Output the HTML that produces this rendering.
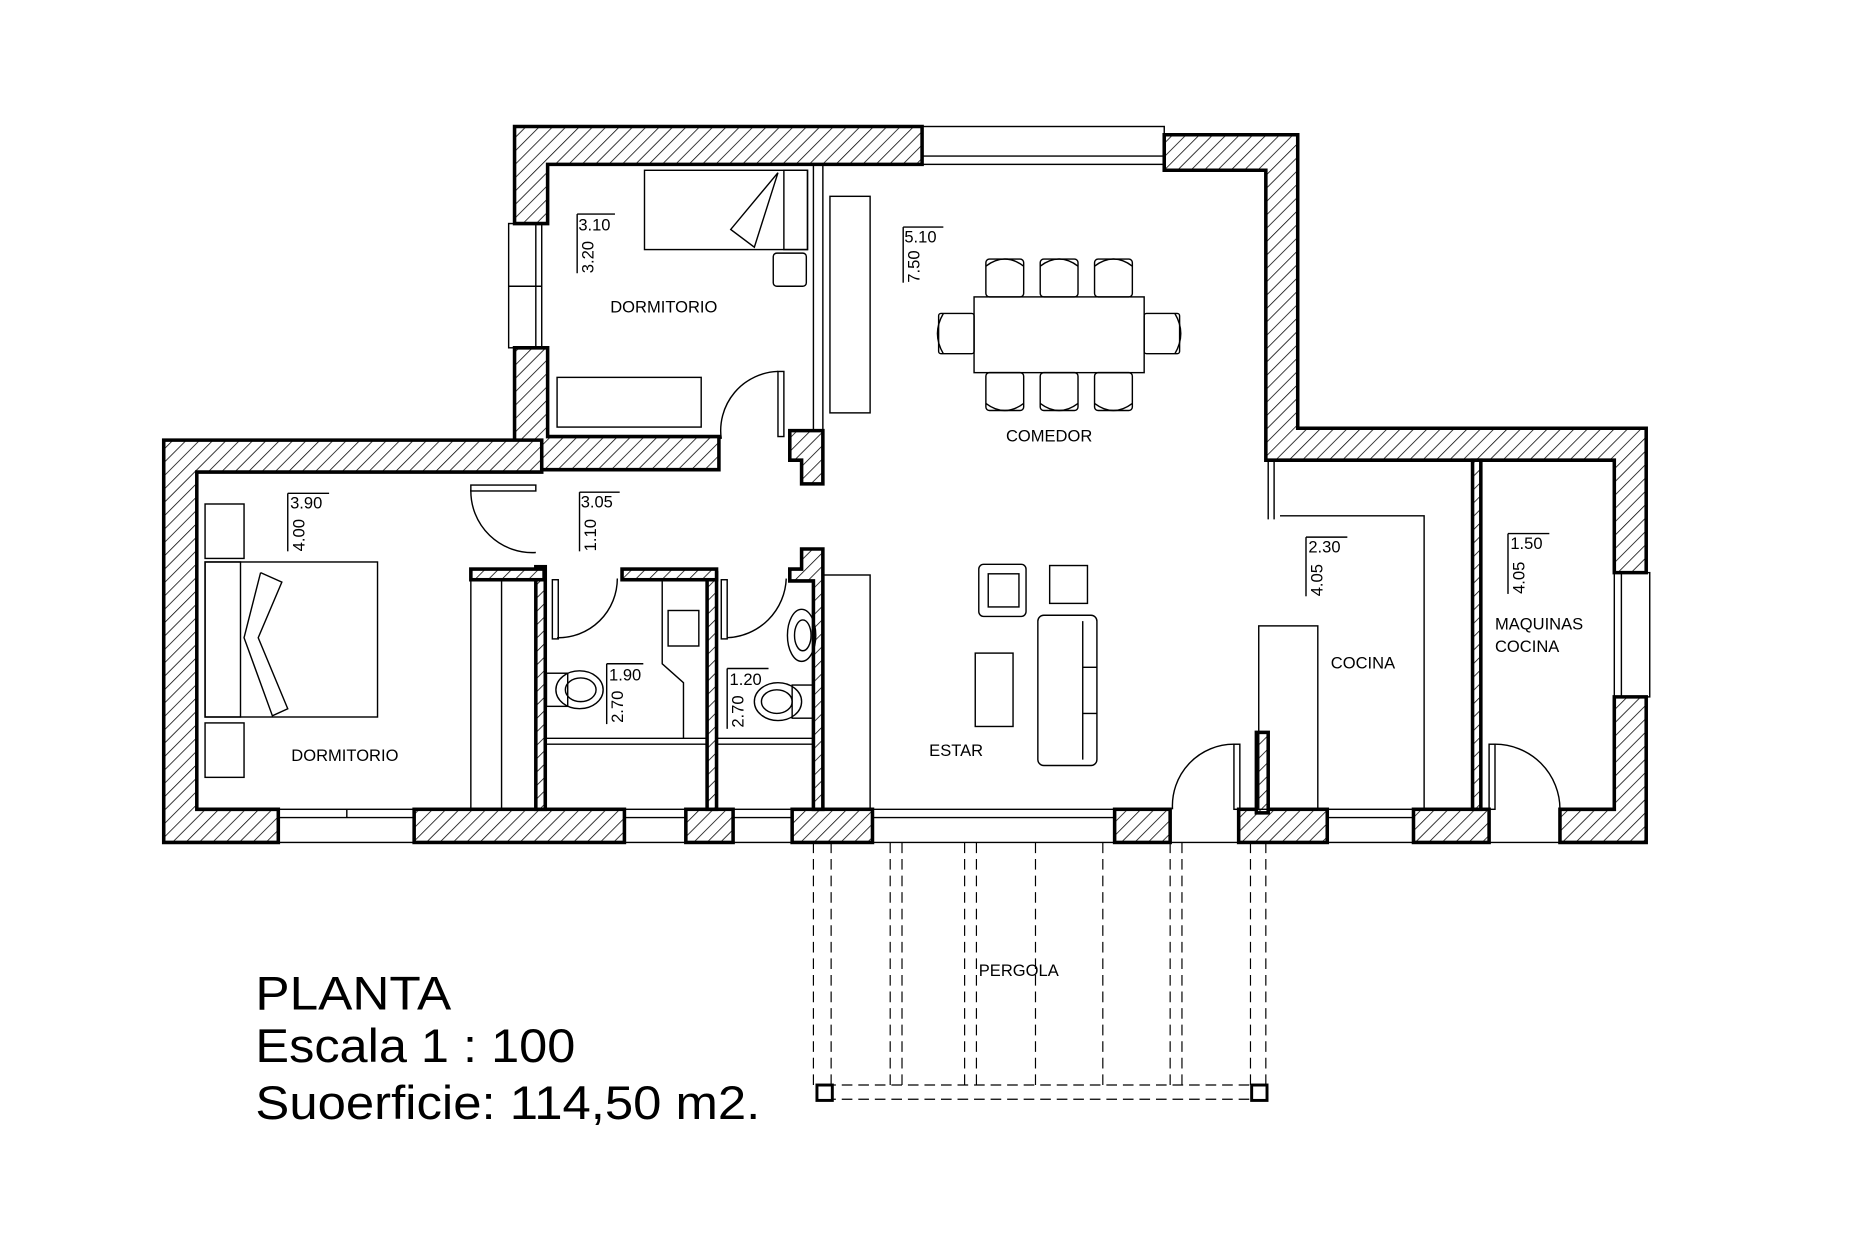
<!DOCTYPE html>
<html><head><meta charset="utf-8"><style>
html,body{margin:0;padding:0;background:#fff;}
svg{display:block;}
text{font-family:"Liberation Sans",sans-serif;fill:#000;}
</style></head><body>
<svg width="1850" height="1254" viewBox="0 0 1550 1051" preserveAspectRatio="none" xmlns="http://www.w3.org/2000/svg">
<defs>
<pattern id="h" patternUnits="userSpaceOnUse" width="8" height="8" patternTransform="rotate(45)">
<rect width="8" height="8" fill="#fff"/><line x1="0" y1="0" x2="0" y2="8" stroke="#000" stroke-width="1.3"/>
</pattern>
</defs>
<g transform="scale(0.9897,0.9918) translate(-1.4,-1.1)">
<g fill="url(#h)" stroke="#000" stroke-width="3">
<polygon points="437,108 782,108 782,140 465,140 465,190 437,190"/>
<polygon points="437,295 465,295 465,370 610,370 610,398 437,398"/>
<polygon points="987,115 1100,115 1100,363 1395,363 1395,485 1368,485 1368,390 1073,390 1073,145 987,145"/>
<polygon points="1368,590 1395,590 1395,713 1322,713 1322,685 1368,685"/>
<polygon points="140,373 460,373 460,400 168,400 168,685 237,685 237,713 140,713"/>
<rect x="352" y="685" width="178" height="28"/>
<rect x="582" y="685" width="40" height="28"/>
<rect x="672" y="685" width="68" height="28"/>
<rect x="945" y="685" width="47" height="28"/>
<rect x="1050" y="685" width="75" height="28"/>
<rect x="1198" y="685" width="64" height="28"/>
<polygon points="670,365 698,365 698,410 680,410 680,390 670,390"/>
<polygon points="680,465 698,465 698,685 690,685 690,492 670,492 670,482 680,482"/>
<rect x="455" y="480" width="8" height="205"/>
<rect x="600" y="485" width="8" height="200"/>
<rect x="400" y="482" width="62" height="9"/>
<rect x="528" y="482" width="80" height="9"/>
<rect x="1248" y="390" width="7" height="295"/>
<rect x="1065" y="620" width="10" height="68"/>
</g>
<g fill="none" stroke="#000" stroke-width="1.2">
<rect x="782" y="108" width="205" height="32"/><line x1="782" y1="133" x2="987" y2="133"/>
<rect x="432" y="190" width="28" height="105"/><line x1="455" y1="190" x2="455" y2="295"/><line x1="432" y1="243" x2="460" y2="243"/>
<rect x="1368" y="485" width="30" height="105"/><line x1="1374" y1="485" x2="1374" y2="590"/>
<rect x="237" y="685" width="115" height="28"/><line x1="237" y1="692" x2="352" y2="692"/><line x1="295" y1="685" x2="295" y2="692"/>
<rect x="530" y="685" width="52" height="28"/><line x1="530" y1="692" x2="582" y2="692"/>
<rect x="622" y="685" width="50" height="28"/><line x1="622" y1="692" x2="672" y2="692"/>
<rect x="1125" y="685" width="73" height="28"/><line x1="1125" y1="692" x2="1198" y2="692"/>
<line x1="740" y1="685" x2="945" y2="685"/><line x1="740" y1="692" x2="945" y2="692"/><line x1="740" y1="713" x2="945" y2="713"/>
<line x1="992" y1="713" x2="1050" y2="713"/><line x1="1262" y1="713" x2="1322" y2="713"/>
<line x1="698" y1="140" x2="698" y2="365"/><line x1="690" y1="140" x2="690" y2="365"/>
<line x1="1080" y1="390" x2="1080" y2="440"/><line x1="1075" y1="390" x2="1075" y2="440"/>
<polyline points="1085,437 1207,437 1207,685"/>
<rect x="1067" y="530" width="50" height="155"/>
<line x1="463" y1="625" x2="600" y2="625"/><line x1="463" y1="630" x2="600" y2="630"/>
<line x1="608" y1="625" x2="690" y2="625"/><line x1="608" y1="630" x2="690" y2="630"/>
<rect x="400" y="491" width="26" height="194"/>
<rect x="698" y="487" width="40" height="198"/>
<polyline points="562,491 562,562 580,578 580,625"/>
<rect x="567" y="517" width="26" height="30"/>
<path d="M612,372 A50,50 0 0 1 660,315"/><rect x="660" y="315" width="5" height="55"/>
<path d="M400,415 A52,52 0 0 0 455,468"/><rect x="400" y="411" width="55" height="5"/>
<path d="M473,540 A50,50 0 0 0 524,490"/><rect x="469" y="491" width="5" height="50"/>
<path d="M617,540 A52,52 0 0 0 667,490"/><rect x="612" y="491" width="5" height="50"/>
<path d="M994,685 A52,52 0 0 1 1046,630"/><rect x="1046" y="630" width="5" height="55"/>
<path d="M1322,685 A55,55 0 0 0 1267,630"/><rect x="1262" y="630" width="5" height="55"/>
<rect x="547" y="145" width="138" height="67"/><rect x="665" y="145" width="20" height="67"/>
<polyline points="660,147 620,195 640,210 660,147"/>
<rect x="656" y="215" width="28" height="28" rx="3"/>
<rect x="473" y="320" width="122" height="42"/>
<rect x="704" y="167" width="34" height="183"/>
<rect x="826" y="252" width="144" height="64"/>
<g id="ch"><rect x="836" y="220" width="32" height="32" rx="3"/><path d="M836,226 Q852,214 868,226"/></g>
<use href="#ch" x="46"/><use href="#ch" x="92"/>
<g transform="translate(0,568) scale(1,-1)"><use href="#ch"/><use href="#ch" x="46"/><use href="#ch" x="92"/></g>
<rect x="796" y="266" width="30" height="34" rx="2"/><path d="M800,266 Q790,283 800,300"/>
<rect x="970" y="266" width="30" height="34" rx="2"/><path d="M996,266 Q1006,283 996,300"/>
<rect x="830" y="478" width="40" height="44" rx="4"/><rect x="838" y="486" width="26" height="28"/>
<rect x="890" y="479" width="32" height="32"/>
<rect x="827" y="553" width="32" height="62"/>
<rect x="880" y="521" width="50" height="127" rx="5"/><line x1="918" y1="526" x2="918" y2="643"/>
<line x1="918" y1="565" x2="930" y2="565"/><line x1="918" y1="604" x2="930" y2="604"/>
<rect x="175" y="427" width="33" height="46"/>
<rect x="175" y="476" width="146" height="131"/><rect x="175" y="476" width="30" height="131"/>
<polyline points="222,485 240,493 220,540 245,600 232,606 208,540 222,485"/>
<rect x="175" y="612" width="33" height="46"/>
<rect x="464" y="570" width="18" height="28"/><ellipse cx="492" cy="584" rx="20" ry="16"/><ellipse cx="493" cy="584" rx="13" ry="10"/>
<rect x="672" y="580" width="18" height="28"/><ellipse cx="660" cy="594" rx="20" ry="16"/><ellipse cx="659" cy="594" rx="13" ry="10"/>
<ellipse cx="680" cy="538" rx="12" ry="22"/><ellipse cx="681" cy="538" rx="7" ry="13"/>
<polyline points="490,182 522,182"/><line x1="490" y1="182" x2="490" y2="232"/>
<polyline points="766,193 800,193"/><line x1="766" y1="193" x2="766" y2="240"/>
<polyline points="245,418 280,418"/><line x1="245" y1="418" x2="245" y2="467"/>
<polyline points="492,417 526,417"/><line x1="492" y1="417" x2="492" y2="467"/>
<polyline points="515,562 546,562"/><line x1="515" y1="562" x2="515" y2="613"/>
<polyline points="617,566 652,566"/><line x1="617" y1="566" x2="617" y2="617"/>
<polyline points="1107,455 1142,455"/><line x1="1107" y1="455" x2="1107" y2="505"/>
<polyline points="1278,452 1313,452"/><line x1="1278" y1="452" x2="1278" y2="503"/>
</g>
<g fill="none" stroke="#000" stroke-width="1" stroke-dasharray="9,5">
<line x1="690" y1="713" x2="690" y2="918"/><line x1="705" y1="713" x2="705" y2="918"/>
<line x1="755" y1="713" x2="755" y2="918"/><line x1="765" y1="713" x2="765" y2="918"/>
<line x1="818" y1="713" x2="818" y2="918"/><line x1="828" y1="713" x2="828" y2="918"/>
<line x1="878" y1="713" x2="878" y2="918"/><line x1="935" y1="713" x2="935" y2="918"/>
<line x1="992" y1="713" x2="992" y2="918"/><line x1="1002" y1="713" x2="1002" y2="918"/>
<line x1="1060" y1="713" x2="1060" y2="918"/><line x1="1073" y1="713" x2="1073" y2="918"/>
<line x1="700" y1="918" x2="1062" y2="918"/><line x1="700" y1="930" x2="1062" y2="930"/>
</g>
<rect x="693" y="918" width="13" height="13" fill="#fff" stroke="#000" stroke-width="2.5"/>
<rect x="1061" y="918" width="13" height="13" fill="#fff" stroke="#000" stroke-width="2.5"/>
<g font-size="14">
<text x="518" y="265">DORMITORIO</text>
<text x="853" y="374">COMEDOR</text>
<text x="248" y="644">DORMITORIO</text>
<text x="788" y="640">ESTAR</text>
<text x="1128" y="566">COCINA</text>
<text x="1267" y="533">MAQUINAS</text>
<text x="1267" y="552">COCINA</text>
<text x="830" y="826">PERGOLA</text>
<text x="491" y="196">3.10</text>
<text x="767" y="206">5.10</text>
<text x="247" y="431">3.90</text>
<text x="493" y="430">3.05</text>
<text x="517" y="576">1.90</text>
<text x="619" y="580">1.20</text>
<text x="1109" y="468">2.30</text>
<text x="1280" y="465">1.50</text>
<text transform="translate(504,232) rotate(-90)">3.20</text>
<text transform="translate(780,240) rotate(-90)">7.50</text>
<text transform="translate(259,467) rotate(-90)">4.00</text>
<text transform="translate(506,467) rotate(-90)">1.10</text>
<text transform="translate(529,612) rotate(-90)">2.70</text>
<text transform="translate(631,616) rotate(-90)">2.70</text>
<text transform="translate(1121,505) rotate(-90)">4.05</text>
<text transform="translate(1292,503) rotate(-90)">4.05</text>
</g>
</g>
<g font-size="40">
<text x="214" y="846" textLength="164" lengthAdjust="spacingAndGlyphs">PLANTA</text>
<text x="214" y="890" textLength="268" lengthAdjust="spacingAndGlyphs">Escala 1 : 100</text>
<text x="214" y="938" textLength="423" lengthAdjust="spacingAndGlyphs">Suoerficie: 114,50 m2.</text>
</g>
</svg>
</body></html>
